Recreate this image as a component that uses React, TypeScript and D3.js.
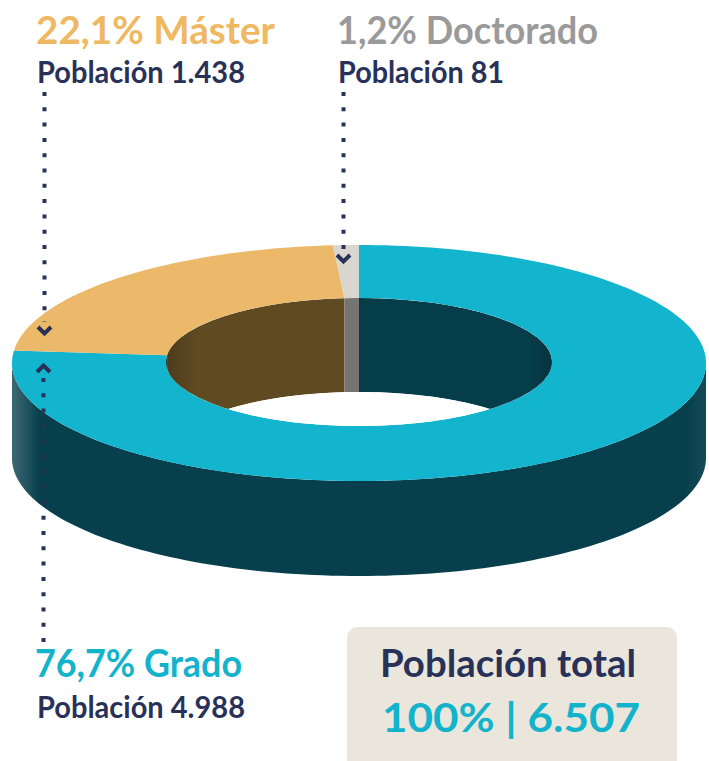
import * as d3 from "d3";

const W = 709;
const H = 761;

// data
const CATEGORIES = ["Grado", "Máster", "Doctorado"];
const PERCENTS = [76.7, 22.1, 1.2];
const POPULATION = [4988, 1438, 81];
const TOTAL = 6507;

// colours per category: top face, outer side, inner wall
const TOP_COLORS = ["#13b4ce", "#ecb96a", "#d9d5cf"];
const SIDE_COLORS = ["#073f4d", "#5a4520", "#6f6d6a"];
const WALL_COLORS = ["#053d4a", "#5f4a22", "#757472"];
const LABEL_COLORS = ["#13b3cc", "#efb862", "#9a9a9a"];
const NAVY = "#283259";

// ring geometry (projected ellipse)
const CX = 359;
const CY = 363;
const RX = 347;
const RY = 118;
const CY_IN = 362;
const RX_IN = 193;
const RY_IN = 64;
const DEPTH = 95;
const DEPTH_IN = 94;

const TAU = Math.PI * 2;
const fmt = (n: number) => n.toLocaleString("de-DE");
const fmtPct = (p: number) => `${p.toFixed(1).replace(".", ",")}%`;

const pt = (a: number, rx: number, ry: number, cy: number, dy = 0): [number, number] => [
  CX + rx * Math.sin(a),
  cy - ry * Math.cos(a) + dy,
];

const samples = (a0: number, a1: number) => {
  const n = Math.max(2, Math.ceil(((a1 - a0) / TAU) * 240));
  return d3.range(n + 1).map((i) => a0 + ((a1 - a0) * i) / n);
};

const line = d3.line<[number, number]>();

function overlap(a0: number, a1: number, lo: number, hi: number) {
  const s = Math.max(a0, lo);
  const e = Math.min(a1, hi);
  return e > s ? [s, e] : null;
}

const pie = d3
  .pie<number>()
  .sort(null)
  .value((d) => d)
  .startAngle(0)
  .endAngle(TAU);

export default function App() {
  const arcs = pie(PERCENTS);

  const topPaths = arcs.map((a) => {
    const outer = samples(a.startAngle, a.endAngle).map((t) => pt(t, RX, RY, CY));
    const inner = samples(a.startAngle, a.endAngle)
      .reverse()
      .map((t) => pt(t, RX_IN, RY_IN, CY_IN));
    return line([...outer, ...inner])! + "Z";
  });

  // outer side visible for the front half
  const sidePaths: { d: string; i: number }[] = [];
  arcs.forEach((a, i) => {
    const r = overlap(a.startAngle, a.endAngle, Math.PI / 2, (3 * Math.PI) / 2);
    if (!r) return;
    const s = samples(r[0], r[1]);
    const top = s.map((t) => pt(t, RX, RY, CY));
    const bot = [...s].reverse().map((t) => pt(t, RX, RY, CY, DEPTH));
    sidePaths.push({ d: line([...top, ...bot])! + "Z", i });
  });

  // inner wall visible for the back half
  const wallPaths: { d: string; i: number }[] = [];
  arcs.forEach((a, i) => {
    [
      [0, Math.PI / 2],
      [(3 * Math.PI) / 2, TAU],
    ].forEach(([lo, hi]) => {
      const r = overlap(a.startAngle, a.endAngle, lo, hi);
      if (!r) return;
      const s = samples(r[0], r[1]);
      const top = s.map((t) => pt(t, RX_IN, RY_IN, CY_IN));
      const bot = [...s].reverse().map((t) => pt(t, RX_IN, RY_IN, CY_IN, DEPTH_IN));
      wallPaths.push({ d: line([...top, ...bot])! + "Z", i });
    });
  });

  const font = "Lato, 'Open Sans', sans-serif";
  const title = (x: number, y: number, txt: string, color: string, len: number, size = 38) => (
    <text
      x={x}
      y={y}
      fill={color}
      fontSize={size}
      fontWeight={700}
      fontFamily={font}
      textLength={len}
      lengthAdjust="spacingAndGlyphs"
    >
      {txt}
    </text>
  );
  const sub = (x: number, y: number, txt: string, len: number) => (
    <text
      x={x}
      y={y}
      fill={NAVY}
      fontSize={30}
      fontWeight={700}
      fontFamily={font}
      textLength={len}
      lengthAdjust="spacingAndGlyphs"
    >
      {txt}
    </text>
  );

  const dots = (x: number, y0: number, y1: number) => (
    <line
      x1={x}
      x2={x}
      y1={y0}
      y2={y1}
      stroke={NAVY}
      strokeWidth={4}
      strokeDasharray="4 11.3"
    />
  );
  const chevron = (x: number, y: number, up = false) => (
    <path
      d={up ? "M-6.5,4L0,-2.5L6.5,4" : "M-6.5,-4L0,2.5L6.5,-4"}
      transform={`translate(${x},${y})`}
      fill="none"
      stroke={NAVY}
      strokeWidth={4}
    />
  );

  return (
    <svg
      width={W}
      height={H}
      style={{ position: "absolute", left: 0, top: 0, background: "#fff" }}
    >
      <defs>
        <linearGradient id="sideShade" x1="0" x2="1" y1="0" y2="0">
          <stop offset="0" stopColor="#fff" stopOpacity={0.22} />
          <stop offset="0.04" stopColor="#fff" stopOpacity={0} />
          <stop offset="0.97" stopColor="#fff" stopOpacity={0} />
          <stop offset="1" stopColor="#fff" stopOpacity={0.06} />
        </linearGradient>
        <linearGradient id="wallShade" x1="0" x2="1" y1="0" y2="0">
          <stop offset="0" stopColor="#000" stopOpacity={0.2} />
          <stop offset="0.08" stopColor="#000" stopOpacity={0} />
          <stop offset="0.94" stopColor="#000" stopOpacity={0} />
          <stop offset="1" stopColor="#000" stopOpacity={0.15} />
        </linearGradient>
        <clipPath id="hole">
          <ellipse cx={CX} cy={CY_IN} rx={RX_IN} ry={RY_IN} />
        </clipPath>
      </defs>

      {sidePaths.map((p, k) => (
        <path key={`s${k}`} d={p.d} fill={SIDE_COLORS[p.i]} />
      ))}
      <path d={sidePaths.map((p) => p.d).join("")} fill="url(#sideShade)" />

      {topPaths.map((d, i) => (
        <path key={`t${i}`} d={d} fill={TOP_COLORS[i]} />
      ))}

      <g clipPath="url(#hole)">
        {wallPaths.map((p, k) => (
          <path key={`w${k}`} d={p.d} fill={WALL_COLORS[p.i]} />
        ))}
        <rect
          x={CX - RX_IN}
          y={CY_IN - RY_IN}
          width={RX_IN * 2}
          height={RY_IN * 2}
          fill="url(#wallShade)"
        />
        <ellipse cx={CX} cy={CY_IN + DEPTH_IN} rx={RX_IN} ry={RY_IN} fill="#fff" />
      </g>

      {/* leader lines */}
      {dots(44.5, 92, 322)}
      {chevron(44.5, 331)}
      {chevron(43.5, 368, true)}
      {dots(43.5, 378, 642)}
      {dots(343.5, 92, 252)}
      {chevron(343.5, 259)}

      {/* labels */}
      {title(36, 44, `${fmtPct(PERCENTS[1])} ${CATEGORIES[1]}`, LABEL_COLORS[1], 239)}
      {sub(37, 83, `Población ${fmt(POPULATION[1])}`, 208)}
      {title(337, 44, `${fmtPct(PERCENTS[2])} ${CATEGORIES[2]}`, LABEL_COLORS[2], 261)}
      {sub(338, 83, `Población ${fmt(POPULATION[2])}`, 166)}
      {title(35, 677, `${fmtPct(PERCENTS[0])} ${CATEGORIES[0]}`, LABEL_COLORS[0], 207)}
      {sub(37, 718, `Población ${fmt(POPULATION[0])}`, 208)}

      <rect x={347} y={627} width={330} height={150} rx={11} fill="#ebe6dc" />
      {title(380, 677, "Población total", NAVY, 256)}
      {title(382, 732, `100% | ${fmt(TOTAL)}`, LABEL_COLORS[0], 258, 40)}
    </svg>
  );
}
